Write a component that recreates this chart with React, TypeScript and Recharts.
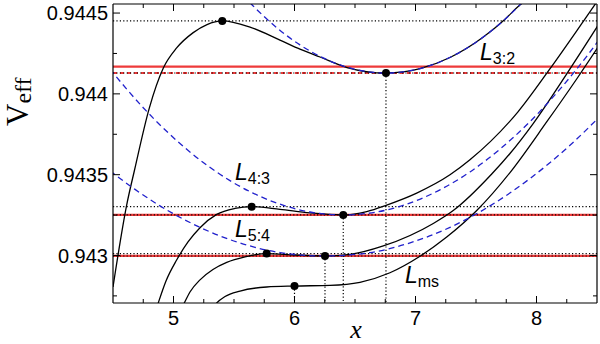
import React from 'react';
import { LineChart, Line, XAxis, YAxis, ReferenceLine, ReferenceDot } from 'recharts';

const X_DOMAIN: [number, number] = [4.5, 8.5];
const Y_DOMAIN: [number, number] = [0.942706, 0.944556];
const xTicks = [4.75, 5, 5.25, 5.5, 5.75, 6, 6.25, 6.5, 6.75, 7, 7.25, 7.5, 7.75, 8, 8.25];
const xLabelTicks = [5, 6, 7, 8];
const yTicks = [0.94275, 0.943, 0.94325, 0.9435, 0.94375, 0.944, 0.94425, 0.9445];
const yLabelTicks = [0.943, 0.9435, 0.944, 0.9445];

// black effective-potential curves
const l32X = [4.5, 4.613, 4.678, 4.8, 4.916, 5.026, 5.163, 5.277, 5.403, 5.632, 5.88, 6.045, 6.211, 6.434, 6.756, 7.037, 7.285, 7.558, 7.74, 7.864, 7.988];
const l32V = [0.942805, 0.943312, 0.943529, 0.943912, 0.94416, 0.944284, 0.944379, 0.944429, 0.944451, 0.944413, 0.944333, 0.944277, 0.944228, 0.944163, 0.944129, 0.944156, 0.944225, 0.94435, 0.944462, 0.944551, 0.944616];

const l43X = [4.847, 4.874, 4.938, 5.026, 5.12, 5.219, 5.357, 5.508, 5.646, 5.88, 6.128, 6.403, 6.597, 6.762, 7.01, 7.285, 7.45, 7.847, 8.112, 8.387, 8.525];
const l43V = [0.942644, 0.942706, 0.942842, 0.942972, 0.943084, 0.943172, 0.943254, 0.943291, 0.943302, 0.943285, 0.943263, 0.943251, 0.943272, 0.943312, 0.943386, 0.943499, 0.943592, 0.943889, 0.944156, 0.944449, 0.944598];

const l54X = [5.054, 5.089, 5.136, 5.219, 5.326, 5.44, 5.591, 5.77, 6.004, 6.252, 6.459, 6.734, 7.147, 7.312, 7.63, 7.781, 7.974, 8.25, 8.525];
const l54V = [0.942657, 0.942706, 0.942774, 0.942849, 0.942913, 0.942957, 0.942991, 0.943012, 0.943003, 0.942997, 0.943007, 0.943059, 0.943198, 0.943278, 0.943504, 0.943631, 0.943818, 0.944124, 0.944443];

const lmsX = [5.318, 5.357, 5.426, 5.55, 5.77, 5.998, 6.293, 6.541, 6.789, 7.037, 7.258, 7.506, 7.781, 8.084, 8.332, 8.525];
const lmsV = [0.942669, 0.942706, 0.942746, 0.94278, 0.942805, 0.942811, 0.942815, 0.942834, 0.942893, 0.942995, 0.943114, 0.943278, 0.943513, 0.943826, 0.944092, 0.944308];

// blue dashed approximations around minima
const b32X = [5.574, 5.632, 5.864, 6.045, 6.211, 6.417, 6.756, 7.079, 7.326, 7.574, 7.74, 7.864, 7.946];
const b32V = [0.94461, 0.944564, 0.944403, 0.944303, 0.944232, 0.944169, 0.944129, 0.944165, 0.944241, 0.944359, 0.944462, 0.944551, 0.944616];

const b43X = [4.475, 4.748, 5.161, 5.467, 5.657, 5.855, 6.128, 6.403, 6.665, 6.93, 7.202, 7.45, 7.698, 7.946, 8.194, 8.442, 8.566];
const b43V = [0.944153, 0.943916, 0.943625, 0.943463, 0.943386, 0.943324, 0.943269, 0.943251, 0.943267, 0.943318, 0.943406, 0.943517, 0.943658, 0.943828, 0.944029, 0.944259, 0.944386];

const b54X = [4.475, 4.682, 4.888, 5.136, 5.384, 5.632, 5.88, 6.252, 6.624, 6.955, 7.285, 7.616, 7.946, 8.277, 8.566];
const b54V = [0.943524, 0.943409, 0.943307, 0.943204, 0.943121, 0.943059, 0.943018, 0.942997, 0.943018, 0.943078, 0.943174, 0.943307, 0.943476, 0.943682, 0.943892];

// extrema
const extremaX = [5.403, 5.646, 5.77, 6.756, 6.403, 6.252, 6.0];
const extremaV = [0.944451, 0.943302, 0.943012, 0.944129, 0.943251, 0.942997, 0.942811];
const minimaX = [6.756, 6.403, 6.252, 6.0];
const minimaV = [0.944129, 0.943251, 0.942997, 0.942811];

// horizontal levels
const maxLevels = [0.944451, 0.943302, 0.943012];
const minLevels = [0.944129, 0.943251, 0.942997];
const redSolidLevels = [0.944168, 0.943251, 0.942997];
const redDashedLevels = [0.944129];

// labels
const labelNames = ['3:2', '4:3', '5:4', 'ms'];
const labelX = [7.533, 5.508, 5.508, 6.913];
const labelV = [0.944209, 0.943467, 0.943116, 0.942828];

const zip = (xs: number[], ys: number[]) => xs.map((x, i) => ({ x, y: ys[i] }));
const isIn = (v: number, arr: number[]) => arr.some((t) => Math.abs(t - v) < 1e-9);

const SANS = '"Liberation Sans", Arial, Helvetica, sans-serif';
const SERIF = '"Liberation Serif", "Times New Roman", serif';
const BLUE = '#2121cc';
const RED = '#ee3a3a';
const DOT = '1.2 2.2';

const BottomTick = (p: any) => {
  const { x, y, payload } = p;
  const major = isIn(payload.value, xLabelTicks);
  return (
    <g>
      <line x1={x} y1={y} x2={x} y2={y - (major ? 7 : 4)} stroke="#000" strokeWidth={1} />
      {major && (
        <text x={x} y={y + 22} textAnchor="middle" fontSize={20} fontFamily={SANS} fill="#000">
          {payload.value}
        </text>
      )}
    </g>
  );
};
const TopTick = (p: any) => {
  const { x, y, payload } = p;
  const major = isIn(payload.value, xLabelTicks);
  return <line x1={x} y1={y} x2={x} y2={y + (major ? 7 : 4)} stroke="#000" strokeWidth={1} />;
};
const LeftTick = (p: any) => {
  const { x, y, payload } = p;
  const major = isIn(payload.value, yLabelTicks);
  return (
    <g>
      <line x1={x} y1={y} x2={x + (major ? 7 : 4)} y2={y} stroke="#000" strokeWidth={1} />
      {major && (
        <text x={x - 5} y={y} dy="0.36em" textAnchor="end" fontSize={20} fontFamily={SANS} fill="#000">
          {String(payload.value)}
        </text>
      )}
    </g>
  );
};
const RightTick = (p: any) => {
  const { x, y, payload } = p;
  const major = isIn(payload.value, yLabelTicks);
  return <line x1={x} y1={y} x2={x - (major ? 7 : 4)} y2={y} stroke="#000" strokeWidth={1} />;
};

const ResLabel = (sub: string) => (p: any) => (
  <text x={p.cx} y={p.cy} fontFamily={SANS} fontSize={23} fontStyle="italic" fill="#000">
    L
    <tspan fontStyle="normal" fontSize={16} dy={4}>
      {sub}
    </tspan>
  </text>
);

export default function App() {
  const ax = { xAxisId: 'b', yAxisId: 'l' } as const;
  const blackCurves = [zip(l32X, l32V), zip(l43X, l43V), zip(l54X, l54V), zip(lmsX, lmsV)];
  const blueCurves = [zip(b32X, b32V), zip(b43X, b43V), zip(b54X, b54V)];
  return (
    <div style={{ position: 'absolute', left: 0, top: 0, width: 600, height: 344, background: '#fff' }}>
      <LineChart width={600} height={344} margin={{ top: 4, right: 3, bottom: 0, left: 0 }}>
        <XAxis
          xAxisId="b"
          type="number"
          dataKey="x"
          domain={X_DOMAIN}
          allowDataOverflow
          ticks={xTicks}
          interval={0}
          height={41}
          tickSize={0}
          tickMargin={0}
          tickLine={false}
          axisLine={{ stroke: '#000', strokeWidth: 1.2 }}
          tick={(p: any) => <BottomTick {...p} />}
        />
        <XAxis
          xAxisId="t"
          orientation="top"
          mirror
          type="number"
          dataKey="x"
          domain={X_DOMAIN}
          allowDataOverflow
          ticks={xTicks}
          interval={0}
          tickSize={0}
          tickMargin={0}
          tickLine={false}
          axisLine={{ stroke: '#000', strokeWidth: 1.2 }}
          tick={(p: any) => <TopTick {...p} />}
        />
        <YAxis
          yAxisId="l"
          type="number"
          domain={Y_DOMAIN}
          allowDataOverflow
          ticks={yTicks}
          interval={0}
          width={113}
          tickSize={0}
          tickMargin={0}
          tickLine={false}
          axisLine={{ stroke: '#000', strokeWidth: 1.2 }}
          tick={(p: any) => <LeftTick {...p} />}
        />
        <YAxis
          yAxisId="r"
          orientation="right"
          mirror
          type="number"
          domain={Y_DOMAIN}
          allowDataOverflow
          ticks={yTicks}
          interval={0}
          tickSize={0}
          tickMargin={0}
          tickLine={false}
          axisLine={{ stroke: '#000', strokeWidth: 1.2 }}
          tick={(p: any) => <RightTick {...p} />}
        />

        {maxLevels.map((v, i) => (
          <ReferenceLine key={'mx' + i} {...ax} y={v} stroke="#000" strokeWidth={1.2} strokeDasharray={DOT} />
        ))}
        {redSolidLevels.map((v, i) => (
          <ReferenceLine key={'rs' + i} {...ax} y={v} stroke={RED} strokeWidth={2.2} />
        ))}
        {redDashedLevels.map((v, i) => (
          <ReferenceLine key={'rd' + i} {...ax} y={v} stroke={RED} strokeWidth={2.2} strokeDasharray="4 3" />
        ))}
        {minLevels.map((v, i) => (
          <ReferenceLine key={'mn' + i} {...ax} y={v} stroke="#000" strokeWidth={1.1} strokeDasharray={DOT} />
        ))}
        {minimaX.map((x, i) => (
          <ReferenceLine
            key={'vl' + i}
            {...ax}
            segment={[
              { x, y: minimaV[i] },
              { x, y: Y_DOMAIN[0] },
            ]}
            stroke="#000"
            strokeWidth={1.2}
            strokeDasharray={DOT}
          />
        ))}

        {blackCurves.map((d, i) => (
          <Line
            key={'bk' + i}
            {...ax}
            data={d}
            dataKey="y"
            type="monotone"
            stroke="#000"
            strokeWidth={1.3}
            dot={false}
            isAnimationActive={false}
          />
        ))}
        {blueCurves.map((d, i) => (
          <Line
            key={'bl' + i}
            {...ax}
            data={d}
            dataKey="y"
            type="monotone"
            stroke={BLUE}
            strokeWidth={1.3}
            strokeDasharray="6 4"
            dot={false}
            isAnimationActive={false}
          />
        ))}
        <Line
          {...ax}
          data={zip(extremaX, extremaV)}
          dataKey="y"
          stroke="none"
          dot={{ r: 4, fill: '#000', stroke: '#000', strokeWidth: 0 }}
          isAnimationActive={false}
        />
        {labelNames.map((n, i) => (
          <ReferenceDot key={'lb' + n} {...ax} x={labelX[i]} y={labelV[i]} r={0} shape={ResLabel(n)} />
        ))}
      </LineChart>
      <svg width={600} height={344} style={{ position: 'absolute', left: 0, top: 0, pointerEvents: 'none' }}>
        <text x={28} y={126} transform="rotate(-90,28,126)" fontFamily={SERIF} fontSize={31} fill="#000">
          V
          <tspan fontSize={24} dy={3}>
            eff
          </tspan>
        </text>
        <text x={356} y={338} textAnchor="middle" fontFamily={SERIF} fontStyle="italic" fontSize={26} fill="#000">
          x
        </text>
      </svg>
    </div>
  );
}
